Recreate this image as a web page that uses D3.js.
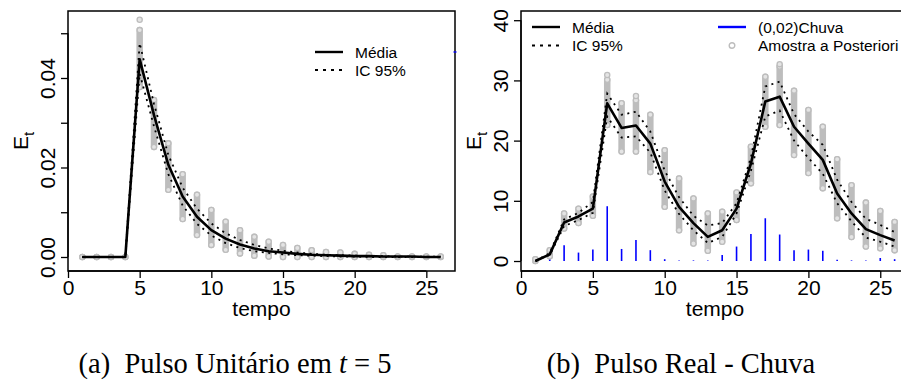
<!DOCTYPE html>
<html>
<head>
<meta charset="utf-8">
<script src="https://cdn.jsdelivr.net/npm/d3@7"></script>
<style>
	body { margin: 0; background: #fff; }
	svg { display: block; font-family: "Liberation Sans", Arial, sans-serif; }
	.axis path, .axis line { stroke: #000; stroke-width: 1.3; }
	.axis text { font-size: 21px; fill: #000; }
</style>
</head>
<body>
<div id="graph"></div>
<script>
// time index 1..26
const tempo = d3.range(1, 27);

// (a) unit pulse at t = 5
const mediaA = [0,0,0,0,0.0442,0.0317,0.0206,0.0135,0.0090,0.0060,0.0041,0.0028,0.0019,0.0013,0.0010,0.0007,0.0005,0.0004,0.0003,0.0002,0.0002,0.0001,0.0001,0.0001,0,0];
const supA  = [0,0,0,0,0.0478,0.0342,0.0228,0.0155,0.0108,0.0075,0.0053,0.0038,0.0027,0.0019,0.0014,0.0010,0.0007,0.0005,0.0004,0.0003,0.0002,0.0002,0.0001,0.0001,0.0001,0.0001];
const infA  = [0,0,0,0,0.0410,0.0292,0.0185,0.0115,0.0074,0.0048,0.0031,0.0020,0.0013,0.0009,0.0006,0.0004,0.0003,0.0002,0.0001,0.0001,0,0,0,0,0,0];
const amostraMinA = [0,0,0,0,0.0380,0.0246,0.0150,0.0085,0.0049,0.0027,0.0016,0.0008,0.0003,0.0001,0,0,0,0,0,0,0,0,0,0,0,0];
const amostraMaxA = [0,0,0,0,0.0507,0.0351,0.0254,0.0185,0.0139,0.0105,0.0079,0.0060,0.0045,0.0034,0.0027,0.0020,0.0015,0.0011,0.0010,0.0007,0.0005,0.0004,0.0001,0.0001,0.0001,0.0001];
const outliersA = [{t: 5, v: 0.0530}];

// (b) real pulse - rain
const mediaB = [0,1.1,6.4,7.4,8.7,26.2,22.1,22.5,19.5,13.2,9.0,6.3,4.0,5.1,8.7,16.2,26.5,27.3,22.3,19.5,16.8,11.2,7.9,5.3,4.3,3.4];
const supB   = [0,1.3,6.9,8.0,9.8,27.8,24.3,24.8,21.5,15.0,10.6,7.5,5.9,6.3,9.6,17.2,29.0,29.8,24.4,21.5,19.3,13.5,9.8,7.0,6.0,4.8];
const infB   = [0,1.0,5.8,6.8,8.0,24.0,20.5,20.7,18.0,11.7,7.8,5.1,3.0,4.0,7.9,15.0,24.0,25.0,20.0,17.1,14.5,9.6,6.6,3.9,3.2,2.4];
const amostraMinB = [0,0.8,5.4,6.3,7.5,22.6,18.2,18.2,14.8,9.0,5.1,2.9,1.7,3.2,6.8,12.9,22.3,22.6,17.6,14.6,12.1,7.1,4.0,2.4,2.1,1.8];
const amostraMaxB = [0.3,1.8,7.9,8.7,10.7,30.1,26.2,26.7,24.3,18.4,13.7,10.4,7.9,8.2,11.4,19.0,30.6,32.3,28.3,25.1,22.3,16.9,12.6,9.7,8.3,6.5];
const outliersB = [{t: 6, v: 30.9}, {t: 8, v: 27.4}, {t: 18, v: 32.7}];
const chuva = [0.45,0.6,2.6,1.4,1.9,9.1,2.0,3.5,1.8,0.3,0.1,0.1,0.1,1.0,2.4,4.5,7.1,4.4,1.8,1.9,1.7,0.2,0.1,0.1,0.5,0.3];

// axis ticks
const xTicks = [0, 5, 10, 15, 20, 25];
const yTicksA = [0, 0.01, 0.02, 0.03, 0.04, 0.05];
const yLabelsA = [0, 0.02, 0.04];
const yTicksB = [0, 10, 20, 30, 40];

const width = 901, height = 381;
const cinza = "#bdbdbd";
const pontilhado = "2,4.5";

let graph = d3.select("div#graph")
	.append("svg")
	.attr("width", width)
	.attr("height", height);

graph.append("rect").attr("width", width).attr("height", height).attr("fill", "#fff");

function drawPanel(opt) {
	const xScale = d3.scaleLinear().domain([0, 27]).range(opt.xRange);
	const yScale = d3.scaleLinear().domain(opt.yDomain).range([271, 11]);
	const g = graph.append("g");

	// x axis
	g.append("g")
		.attr("class", "x axis")
		.attr("transform", "translate(0,271)")
		.call(d3.axisBottom(xScale).tickValues(xTicks).tickSize(7).tickSizeOuter(0))
		.call(a => a.select(".domain").remove())
		.call(a => a.append("line").attr("x1", xScale(0)).attr("x2", xScale(25)).attr("stroke", "#000").attr("stroke-width", 1.3))
		.selectAll("text")
		.attr("y", 0)
		.attr("dy", 24);

	// y axis, labels turned like R does
	g.append("g")
		.attr("class", "y axis")
		.attr("transform", `translate(${opt.xRange[0]},0)`)
		.call(d3.axisLeft(yScale).tickValues(opt.yTicks).tickSize(7).tickSizeOuter(0).tickFormat(opt.fmt))
		.call(a => a.select(".domain").remove())
		.call(a => a.append("line").attr("y1", yScale(opt.yTicks[0])).attr("y2", yScale(opt.yTicks[opt.yTicks.length - 1])).attr("stroke", "#000").attr("stroke-width", 1.3))
		.selectAll("text")
		.attr("x", 0)
		.attr("y", -13)
		.attr("dy", 0)
		.style("text-anchor", "middle")
		.attr("transform", "rotate(-90)");

	// box
	g.append("rect")
		.attr("x", opt.xRange[0])
		.attr("y", 11)
		.attr("width", opt.xRange[1] - opt.xRange[0])
		.attr("height", 260)
		.attr("fill", "none")
		.attr("stroke", "#000")
		.attr("stroke-width", 1.5);

	// axis titles
	g.append("text")
		.attr("x", (xScale(0) + xScale(27)) / 2)
		.attr("y", 316)
		.attr("text-anchor", "middle")
		.style("font-size", "21px")
		.text("tempo");

	let lab = g.append("text")
		.attr("transform", `translate(${opt.xRange[0] - 40},141) rotate(-90)`)
		.attr("text-anchor", "middle")
		.style("font-size", "21px");
	lab.append("tspan").text("E");
	lab.append("tspan").attr("dy", 6).style("font-size", "15px").text("t");

	const plot = g.append("g");

	// rain bars (type = "h")
	if (opt.chuva) {
		plot.selectAll("line.chuva")
			.data(opt.chuva)
			.enter()
			.append("line")
			.attr("class", "chuva")
			.attr("x1", (d, i) => xScale(tempo[i]))
			.attr("x2", (d, i) => xScale(tempo[i]))
			.attr("y1", yScale(0))
			.attr("y2", d => yScale(d))
			.attr("stroke", "#0000ff")
			.attr("stroke-width", 1.6);
	}

	// posterior samples: dense stack of open circles
	plot.selectAll("line.amostra")
		.data(opt.amin)
		.enter()
		.append("line")
		.attr("class", "amostra")
		.attr("x1", (d, i) => xScale(tempo[i]))
		.attr("x2", (d, i) => xScale(tempo[i]))
		.attr("y1", d => yScale(d))
		.attr("y2", (d, i) => yScale(opt.amax[i]))
		.attr("stroke", cinza)
		.attr("stroke-width", 6.5)
		.attr("stroke-linecap", "round");

	const pts = [];
	opt.amin.forEach((d, i) => { pts.push({t: tempo[i], v: d}); pts.push({t: tempo[i], v: opt.amax[i]}); });
	opt.outliers.forEach(d => pts.push(d));
	plot.selectAll("circle.amostra")
		.data(pts)
		.enter()
		.append("circle")
		.attr("cx", d => xScale(d.t))
		.attr("cy", d => yScale(d.v))
		.attr("r", 2.6)
		.attr("fill", "#e4e4e4")
		.attr("stroke", cinza)
		.attr("stroke-width", 1.3);

	const line = d3.line()
		.x((d, i) => xScale(tempo[i]))
		.y(d => yScale(d));

	[opt.sup, opt.inf].forEach(s => {
		plot.append("path").datum(s)
			.attr("fill", "none")
			.attr("stroke", "#000")
			.attr("stroke-width", 1.8)
			.attr("stroke-dasharray", pontilhado)
			.attr("d", line);
	});

	plot.append("path").datum(opt.media)
		.attr("fill", "none")
		.attr("stroke", "#000")
		.attr("stroke-width", 2.6)
		.attr("stroke-linejoin", "round")
		.attr("d", line);
}

drawPanel({
	xRange: [68, 455], yDomain: [-0.00313, 0.05497],
	yTicks: yTicksA, fmt: d => yLabelsA.includes(d) ? d3.format(".2f")(d) : "",
	media: mediaA, sup: supA, inf: infA, amin: amostraMinA, amax: amostraMaxA, outliers: outliersA
});

drawPanel({
	xRange: [521, 909], yDomain: [-1.66, 41.53],
	yTicks: yTicksB, fmt: d3.format("d"),
	media: mediaB, sup: supB, inf: infB, amin: amostraMinB, amax: amostraMaxB, outliers: outliersB, chuva: chuva
});

// legends
function legendEntry(x, y, kind, label) {
	const g = graph.append("g").attr("transform", `translate(${x},${y})`);
	if (kind == "circle") {
		g.append("circle").attr("cx", 14).attr("r", 2.8).attr("fill", "none").attr("stroke", cinza).attr("stroke-width", 1.4);
	} else {
		g.append("line")
			.attr("x1", 0).attr("x2", 28)
			.attr("stroke", kind == "blue" ? "#0000ff" : "#000")
			.attr("stroke-width", kind == "dot" ? 1.8 : 2.4)
			.attr("stroke-dasharray", kind == "dot" ? "3,5" : null);
	}
	g.append("text").attr("x", 40).attr("dy", "0.36em").style("font-size", "15.5px").text(label);
}
legendEntry(315, 52, "solid", "Média");
legendEntry(315, 70, "dot", "IC 95%");
legendEntry(532, 27, "solid", "Média");
legendEntry(532, 45.5, "dot", "IC 95%");
legendEntry(718, 27, "blue", "(0,02)Chuva");
legendEntry(718, 45.5, "circle", "Amostra a Posteriori");
// clipped blue legend piece at the right edge of panel (a)
graph.append("line").attr("x1", 453.5).attr("x2", 456.5).attr("y1", 52).attr("y2", 52).attr("stroke", "#0000ff").attr("stroke-width", 1.4);

// captions
const caption = graph.append("g").style("font-family", "'Liberation Serif', 'Times New Roman', serif").style("font-size", "28.5px");
let capA = caption.append("text").attr("x", 235).attr("y", 373).attr("text-anchor", "middle");
capA.append("tspan").text("(a)\u2002Pulso Unitário em ");
capA.append("tspan").style("font-style", "italic").text("t");
capA.append("tspan").text(" = 5");
caption.append("text").attr("x", 681).attr("y", 373).attr("text-anchor", "middle").text("(b)\u2002Pulso Real - Chuva");
</script>
</body>
</html>
